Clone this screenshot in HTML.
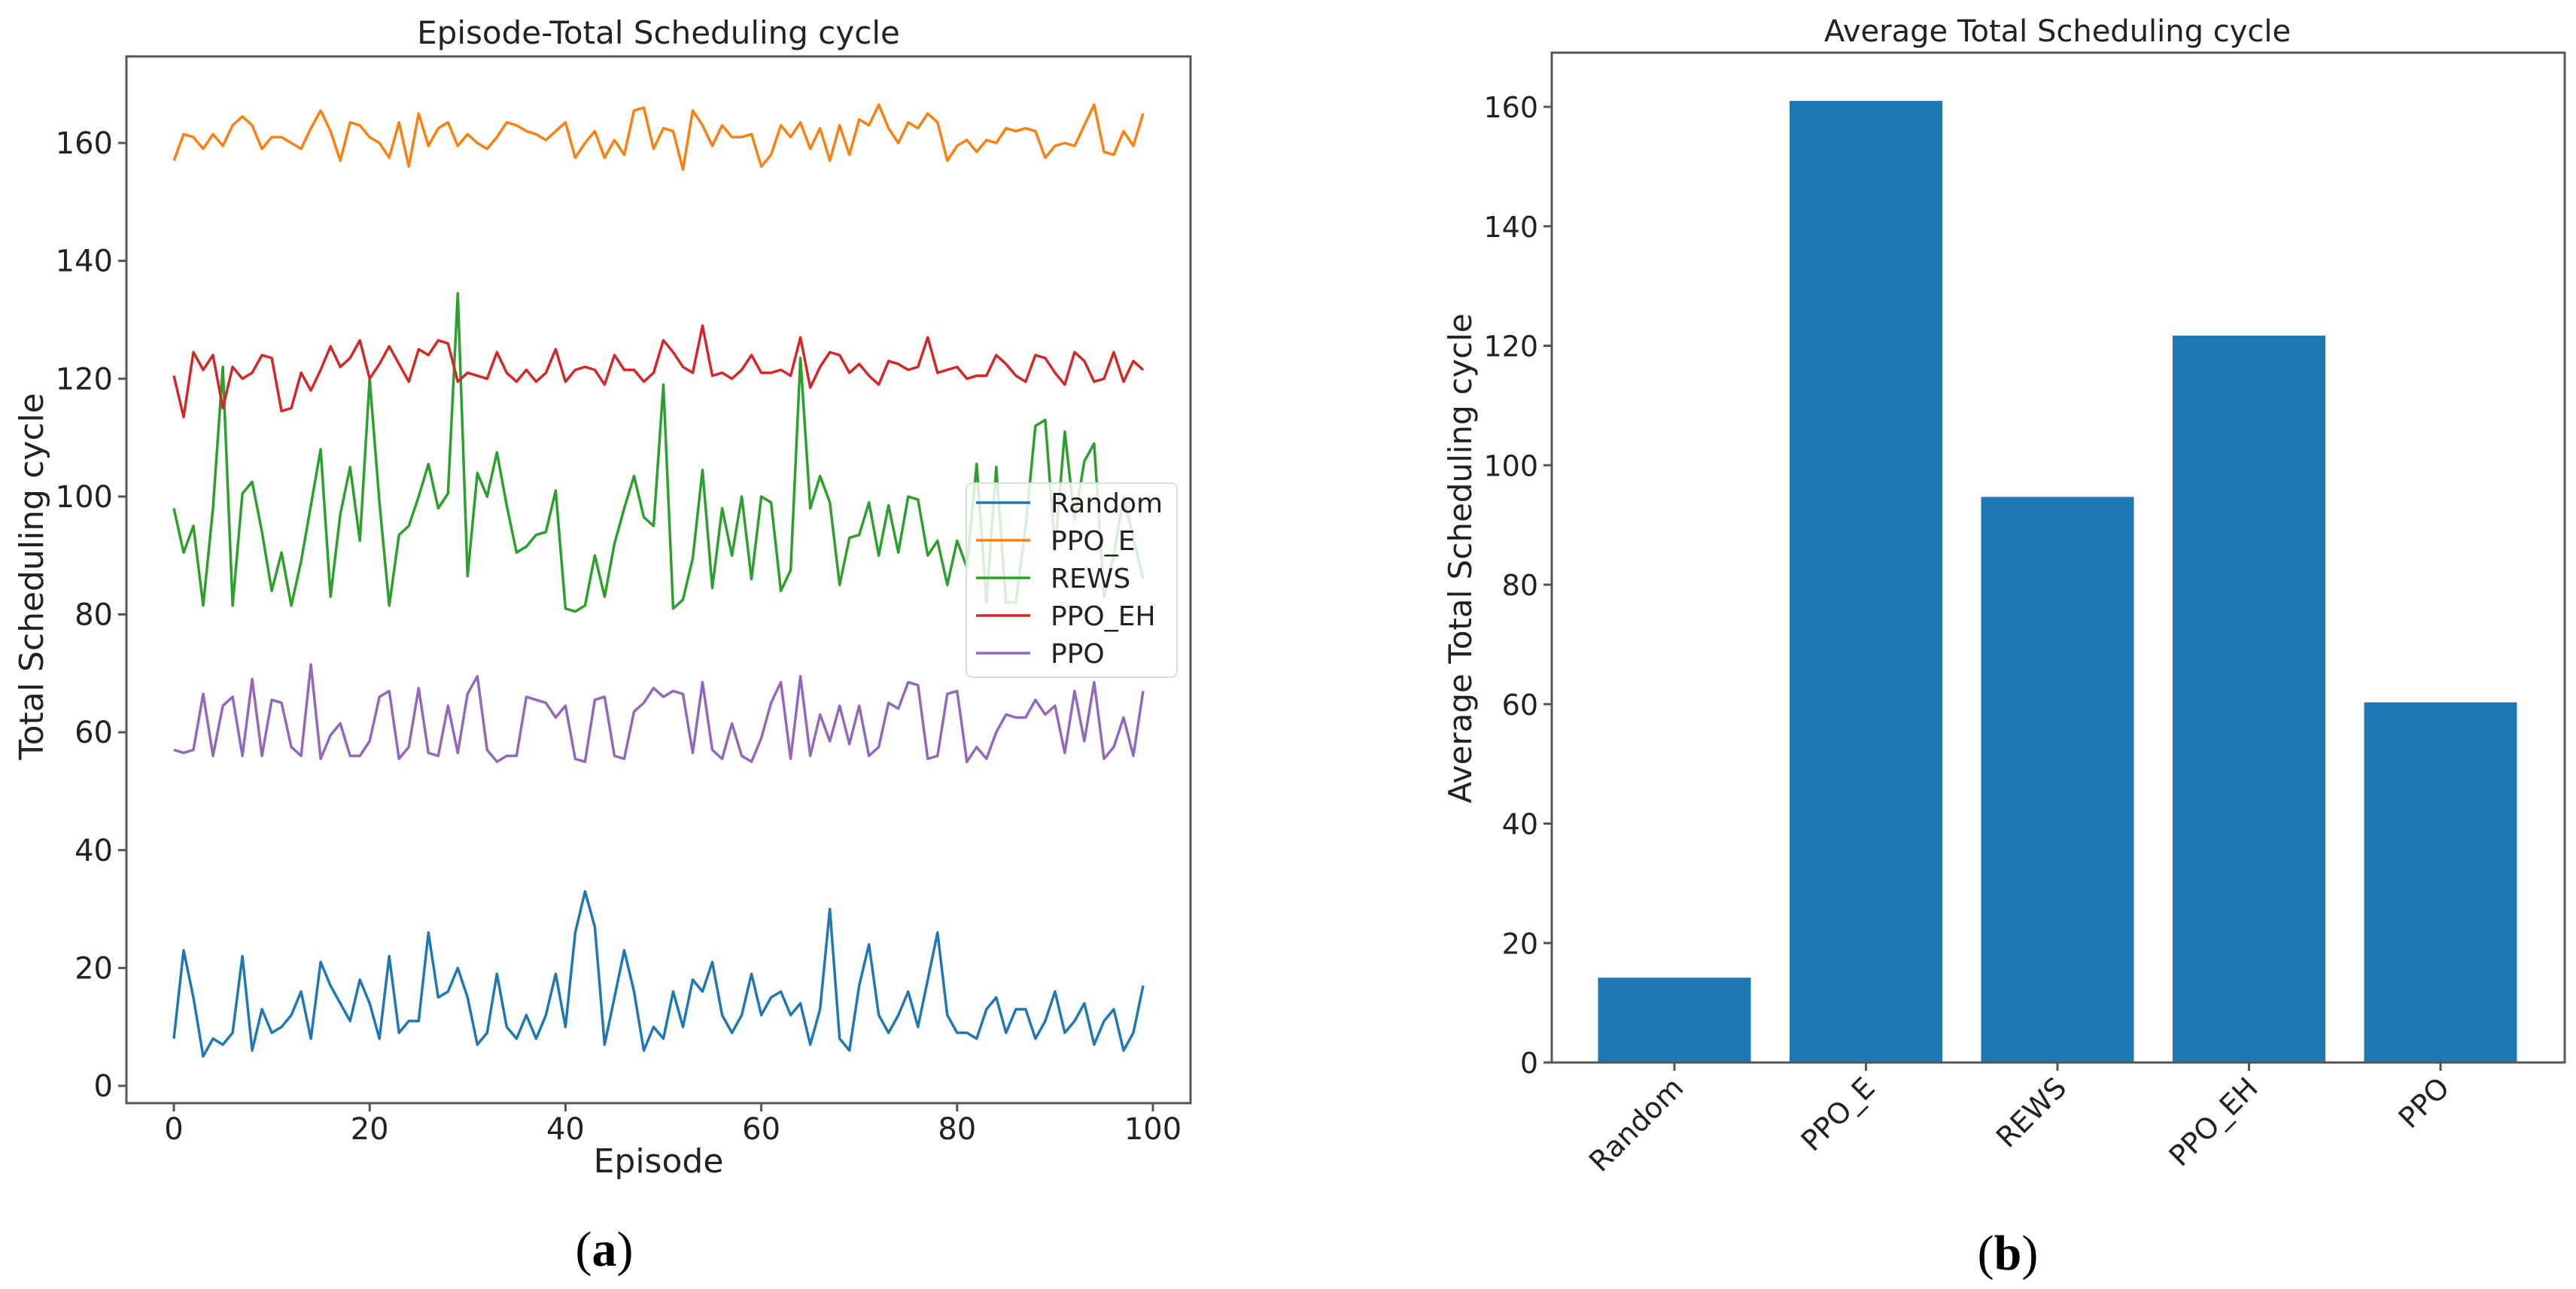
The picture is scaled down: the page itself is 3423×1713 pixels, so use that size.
<!DOCTYPE html>
<html><head><meta charset="utf-8"><style>
html,body{margin:0;padding:0;background:#fff;}
svg{display:block;font-family:"DejaVu Sans","Liberation Sans",sans-serif;}
</style></head><body>
<svg id="fig" width="3423" height="1713" viewBox="0 0 3423 1713" xmlns="http://www.w3.org/2000/svg">
<g id="left"></g>
<g id="right"></g>
</svg>
<script>
const episodes = Array.from({length:100},(_,i)=>i);
const randomVals = [8,23,15,5,8,7,9,22,6,13, 9,10,12,16,8,21,17,14,11,18, 14,8,22,9,11,11,26,15,16,20, 15,7,9,19,10,8,12,8,12,19, 10,26,33,27,7,15,23,16,6,10, 8,16,10,18,16,21,12,9,12,19, 12,15,16,12,14,7,13,30,8,6, 17,24,12,9,12,16,10,18,26,12, 9,9,8,13,15,9,13,13,8,11, 16,9,11,14,7,11,13,6,9,17];
const ppoEVals = [157,161.5,161,159,161.5,159.5,163,164.5,163,159, 161,161,160,159,162.5,165.5,162,157,163.5,163, 161,160,157.5,163.5,156,165,159.5,162.5,163.5,159.5, 161.5,160,159,161,163.5,163,162,161.5,160.5,162, 163.5,157.5,160,162,157.5,160.5,158,165.5,166,159, 162.5,162,155.5,165.5,163,159.5,163,161,161,161.5, 156,158,163,161,163.5,159,162.5,157,163,158, 164,163,166.5,162.5,160,163.5,162.5,165,163.5,157, 159.5,160.5,158.5,160.5,160,162.5,162,162.5,162,157.5, 159.5,160,159.5,163,166.5,158.5,158,162,159.5,165];
const rewsVals = [98,90.5,95,81.5,98,122,81.5,100.5,102.5,94, 84,90.5,81.5,89,98.5,108,83,97,105,92.5, 120,99,81.5,93.5,95,100,105.5,98,100.5,134.5, 86.5,104,100,107.5,98.5,90.5,91.5,93.5,94,101, 81,80.5,81.5,90,83,92,98,103.5,96.5,95, 119,81,82.5,89.5,104.5,84.5,98,90,100,86, 100,99,84,87.5,123.5,98,103.5,99,85,93, 93.5,99,90,98.5,90.5,100,99.5,90,92.5,85, 92.5,88,105.5,82,105,82,82,95,112,113, 91,111,96,106,109,83,90,100,93,86];
const ppoEHVals = [120.5,113.5,124.5,121.5,124,115,122,120,121,124, 123.5,114.5,115,121,118,121.5,125.5,122,123.5,126.5, 120,122.5,125.5,122.5,119.5,125,124,126.5,126,119.5, 121,120.5,120,124.5,121,119.5,121.5,119.5,121,125, 119.5,121.5,122,121.5,119,124,121.5,121.5,119.5,121, 126.5,124.5,122,121,129,120.5,121,120,121.5,124, 121,121,121.5,120.5,127,118.5,122,124.5,124,121, 122.5,120.5,119,123,122.5,121.5,122,127,121,121.5, 122,120,120.5,120.5,124,122.5,120.5,119.5,124,123.5, 121,119,124.5,123,119.5,120,124.5,119.5,123,121.5];
const ppoVals = [57,56.5,57,66.5,56,64.5,66,56,69,56, 65.5,65,57.5,56,71.5,55.5,59.5,61.5,56,56, 58.5,66,67,55.5,57.5,67.5,56.5,56,64.5,56.5, 66.5,69.5,57,55,56,56,66,65.5,65,62.5, 64.5,55.5,55,65.5,66,56,55.5,63.5,65,67.5, 66,67,66.5,56.5,68.5,57,55.5,61.5,56,55, 59,65,68.5,55.5,69.5,56,63,58.5,64.5,58, 64.5,56,57.5,65,64,68.5,68,55.5,56,66.5, 67,55,57.5,55.5,60,63,62.5,62.5,65.5,63, 64.5,56.5,67,58.5,68.5,55.5,57.5,62.5,56,67];
const seriesNames = ["Random","PPO_E","REWS","PPO_EH","PPO"];
const seriesColors = ["#1f77b4","#ff7f0e","#2ca02c","#d62728","#9467bd"];
const xTicks = [0,20,40,60,80,100];
const yTicksLeft = [0,20,40,60,80,100,120,140,160];
const barCategories = ["Random","PPO_E","REWS","PPO_EH","PPO"];
const barValues = [14.2,161,94.7,121.7,60.3];
const yTicksRight = [0,20,40,60,80,100,120,140,160];

const NS="http://www.w3.org/2000/svg";
function mk(tag,attrs,parent,text){const e=document.createElementNS(NS,tag);for(const k in attrs)e.setAttribute(k,attrs[k]);if(text!==undefined)e.textContent=text;parent.appendChild(e);return e;}

// ---------- left chart ----------
const L=document.getElementById('left');
const lx=v=>231+(v-0)*(1532-231)/100;
const ly=v=>1443-v*(1443-190)/160;
const lBox={x:168,y:75,w:1582-168,h:1466-75};

const seriesData=[randomVals,ppoEVals,rewsVals,ppoEHVals,ppoVals];
seriesData.forEach((arr,si)=>{
  const d=arr.map((v,i)=>(i?'L':'M')+lx(episodes[i]).toFixed(1)+' '+ly(v).toFixed(1)).join(' ');
  const p=mk('path',{d:d,fill:'none',stroke:seriesColors[si],'stroke-width':3.5,'stroke-linejoin':'round'},L);
  
  
});
const lf=mk('rect',{x:lBox.x,y:lBox.y,width:lBox.w,height:lBox.h,fill:'none',stroke:'#555',"stroke-width":3},L);


xTicks.forEach(t=>{
  mk('line',{x1:lx(t),x2:lx(t),y1:1466,y2:1477,stroke:'#555','stroke-width':3},L);
  const tx=mk('text',{x:lx(t),y:1514,'font-size':40,'text-anchor':'middle',fill:'#222'},L,String(t));
  
  
});
yTicksLeft.forEach(t=>{
  mk('line',{x1:157,x2:168,y1:ly(t),y2:ly(t),stroke:'#555','stroke-width':3},L);
  const tx=mk('text',{x:150,y:ly(t)+14,'font-size':40,'text-anchor':'end',fill:'#222'},L,String(t));
  
  
});
let t1=mk('text',{x:875,y:58,'font-size':42,'text-anchor':'middle',fill:'#222'},L,'Episode-Total Scheduling cycle');


let xl=mk('text',{x:875,y:1558,'font-size':44,'text-anchor':'middle',fill:'#222'},L,'Episode');


let yl=mk('text',{x:0,y:0,'font-size':44,'text-anchor':'middle',fill:'#222',transform:'translate(57,766) rotate(-90)'},L,'Total Scheduling cycle');


let ca=mk('text',{x:803,y:1682,'font-size':66,'text-anchor':'middle',fill:'#000','font-family':'"Liberation Serif",serif'},L,'');
ca.innerHTML='(<tspan font-weight="bold">a</tspan>)';


// legend
const lg=mk('g',{},L);


mk('rect',{x:1284,y:642,width:280,height:258,rx:8,fill:'rgba(255,255,255,0.82)',stroke:'#ddd','stroke-width':2},lg);
seriesNames.forEach((n,i)=>{
  const y=668+i*50;
  const e=mk('g',{},lg);
  
  
  mk('line',{x1:1297,x2:1369,y1:y,y2:y,stroke:seriesColors[i],'stroke-width':3.5},e);
  mk('text',{x:1396,y:y+13,'font-size':36,fill:'#222'},e,n);
});

// ---------- right chart ----------
const R=document.getElementById('right');
const rx0=2225, rstep=254.5, bw=203;
const ry=v=>1412-v*(1412-142)/160;
barValues.forEach((v,i)=>{
  const cx=rx0+i*rstep;
  const b=mk('rect',{x:cx-bw/2,y:ry(v),width:bw,height:ry(0)-ry(v),fill:'#1f77b4'},R);
  
  
  mk('line',{x1:cx,x2:cx,y1:1412,y2:1423,stroke:'#555','stroke-width':3},R);
  const tx=mk('text',{x:0,y:0,'font-size':38,'text-anchor':'end',fill:'#222',transform:`translate(${cx+14},${1448}) rotate(-45)`},R,barCategories[i]);
  
  
});
const rf=mk('rect',{x:2062,y:70,width:3408-2062,height:1412-70,fill:'none',stroke:'#555','stroke-width':3},R);


yTicksRight.forEach(t=>{
  mk('line',{x1:2051,x2:2062,y1:ry(t),y2:ry(t),stroke:'#555','stroke-width':3},R);
  const tx=mk('text',{x:2044,y:ry(t)+14,'font-size':38,'text-anchor':'end',fill:'#222'},R,String(t));
  
  
});
let t2=mk('text',{x:2734,y:55,'font-size':40,'text-anchor':'middle',fill:'#222'},R,'Average Total Scheduling cycle');


let yl2=mk('text',{x:0,y:0,'font-size':42,'text-anchor':'middle',fill:'#222',transform:'translate(1955,742) rotate(-90)'},R,'Average Total Scheduling cycle');


let cb=mk('text',{x:2668,y:1687,'font-size':66,'text-anchor':'middle',fill:'#000','font-family':'"Liberation Serif",serif'},R,'');
cb.innerHTML='(<tspan font-weight="bold">b</tspan>)';


</script>
</body></html>
